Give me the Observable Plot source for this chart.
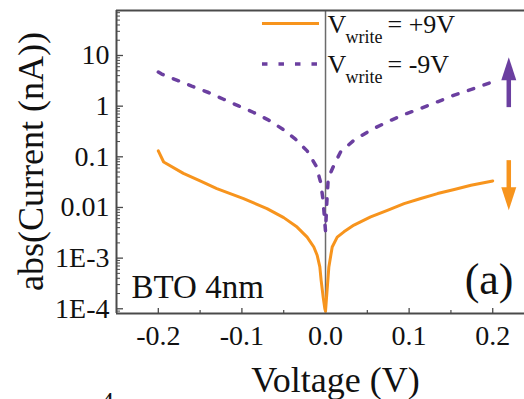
<!DOCTYPE html>
<html><head><meta charset="utf-8">
<script src="https://cdn.jsdelivr.net/npm/d3@7"></script>
<script src="https://cdn.jsdelivr.net/npm/@observablehq/plot@0.6"></script>
<style>
html,body{margin:0;padding:0;background:#fff;overflow:hidden;width:524px;height:399px}
svg, svg text{font-family:"Liberation Serif","Times New Roman",Times,serif !important}
</style>
</head><body><div id="chart"></div>
<script>
// Vwrite = +9V (orange, solid)
const voltagePos = [-0.2, -0.1936, -0.17, -0.15, -0.13, -0.098, -0.07, -0.05, -0.034, -0.022, -0.014, -0.01, -0.0068, -0.0052, -0.0028, -0.0008, 0, 0.001, 0.004, 0.008, 0.014, 0.022, 0.034, 0.054, 0.074, 0.094, 0.114, 0.134, 0.154, 0.174, 0.2];
const currentPos = [0.131, 0.079, 0.047, 0.0334, 0.0236, 0.015, 0.0095, 0.0063, 0.0041, 0.0026, 0.00166, 0.00114, 0.00067, 0.00036, 0.00017, 0.0001, 0.00009, 0.00015, 0.00067, 0.00166, 0.0026, 0.0033, 0.0045, 0.0065, 0.0088, 0.0119, 0.015, 0.0188, 0.0226, 0.0275, 0.0334];
// Vwrite = -9V (purple, dotted)
const voltageNeg = [-0.2, -0.196, -0.178, -0.16, -0.14, -0.122, -0.104, -0.086, -0.068, -0.051, -0.036, -0.022, -0.011, -0.006, -0.003, -0.0015, 0, 0.0015, 0.003, 0.006, 0.01, 0.018, 0.034, 0.054, 0.074, 0.094, 0.114, 0.134, 0.154, 0.178, 0.2];
const currentNeg = [4.7, 4.29, 3.27, 2.48, 1.86, 1.37, 1.01, 0.75, 0.53, 0.35, 0.223, 0.131, 0.065, 0.032, 0.0144, 0.007, 0.0034, 0.012, 0.032, 0.048, 0.068, 0.125, 0.213, 0.336, 0.49, 0.685, 0.9, 1.22, 1.65, 2.24, 3.02];

const xTickValues = [-0.2, -0.1, 0, 0.1, 0.2];
const xTickLabels = ["-0.2", "-0.1", "0.0", "0.1", "0.2"];
const xMinorValues = [-0.15, -0.05, 0.05, 0.15];
const yTickValues = [1e-4, 1e-3, 0.01, 0.1, 1, 10];
const yTickLabels = ["1E-4", "1E-3", "0.01", "0.1", "1", "10"];

const W = 524, H = 399, ML = 116, MR = 0, MT = 10, MB = 86;
const plotW = W - ML - MR, plotH = H - MT - MB;
const xDomain = [-0.25, 0.238];
const yDomain = [8.07e-5, 77.3];

const yMinor = [];
for (let e = -5; e <= 1; e++) for (let m = 2; m <= 9; m++) {
  const v = m * Math.pow(10, e);
  if (v > yDomain[0] && v < yDomain[1]) yMinor.push(v);
}

const pos = voltagePos.map((v, i) => ({v, c: currentPos[i]}));
const neg = voltageNeg.map((v, i) => ({v, c: currentNeg[i]}));

const ORANGE = "#F7941D", PURPLE = "#6B3FA0", AXIS = "#4a4a4a", INK = "#111";
const FONT = "Liberation Serif";
const arrowX = 0.2192;

const txt = (s, o) => Plot.text([s], {text: d => d, frameAnchor: "top-left", lineAnchor: "bottom", textAnchor: "start", fill: INK, fontFamily: FONT, ...o});

const chart = Plot.plot({
  width: W, height: H,
  marginLeft: ML, marginRight: MR, marginTop: MT, marginBottom: MB,
  style: {fontFamily: FONT, color: INK, background: "white", overflow: "visible"},
  x: {type: "linear", domain: xDomain},
  y: {type: "log", domain: yDomain},
  marks: [
    Plot.ruleX([0], {stroke: "#6b6b6b", strokeWidth: 1.5}),
    Plot.ruleY([yDomain[1]], {stroke: AXIS, strokeWidth: 2}),
    Plot.ruleY([yDomain[0]], {stroke: AXIS, strokeWidth: 2}),
    Plot.ruleX([xDomain[0]], {stroke: AXIS, strokeWidth: 2}),
    Plot.tickX(xTickValues, {x: d => d, insetTop: plotH - 5, stroke: AXIS, strokeWidth: 1.3}),
    Plot.tickX(xMinorValues, {x: d => d, insetTop: plotH - 3, stroke: AXIS, strokeWidth: 1.2}),
    Plot.tickY(yTickValues, {y: d => d, insetRight: plotW - 7, stroke: AXIS, strokeWidth: 1.3}),
    Plot.tickY(yMinor, {y: d => d, insetRight: plotW - 4, stroke: AXIS, strokeWidth: 1}),
    Plot.axisX({ticks: xTickValues, tickFormat: d => xTickLabels[xTickValues.indexOf(d)], tickSize: 0, tickPadding: 12, fontSize: 28, fontFamily: FONT, fill: INK, label: null}),
    Plot.axisY({ticks: yTickValues, tickFormat: d => yTickLabels[yTickValues.indexOf(d)], tickSize: 0, tickPadding: 7, fontSize: 28, fontFamily: FONT, fill: INK, label: null}),
    Plot.line(neg, {x: "v", y: "c", stroke: PURPLE, strokeWidth: 3.5, strokeDasharray: "5.5,11"}),
    Plot.line(pos, {x: "v", y: "c", stroke: ORANGE, strokeWidth: 3, strokeLinejoin: "round"}),
    // legend
    Plot.ruleY([42.8], {x1: -0.0754, x2: -0.0072, stroke: ORANGE, strokeWidth: 3}),
    Plot.ruleY([6.8], {x1: -0.0754, x2: -0.0072, stroke: PURPLE, strokeWidth: 3.5, strokeDasharray: "5.5,11"}),
    txt("V", {dx: 211, dy: 22, fontSize: 26}),
    txt("write", {dx: 229, dy: 32, fontSize: 18}),
    txt("= +9V", {dx: 271, dy: 22, fontSize: 26}),
    txt("V", {dx: 211, dy: 62, fontSize: 26}),
    txt("write", {dx: 229, dy: 72, fontSize: 18}),
    txt("= -9V", {dx: 271, dy: 62, fontSize: 26}),
    // arrows
    Plot.link([0], {x1: arrowX, x2: arrowX, y1: 0.956, y2: 3.4, stroke: PURPLE, strokeWidth: 4.5}),
    Plot.vector([0], {x: arrowX, y: 3.26, length: 23, r: 7.5, shape: "spike", anchor: "start", rotate: 0, fill: PURPLE, stroke: "none"}),
    Plot.link([0], {x1: arrowX, x2: arrowX, y1: 0.0859, y2: 0.0229, stroke: ORANGE, strokeWidth: 4.5}),
    Plot.vector([0], {x: arrowX, y: 0.0251, length: 23, r: 7.5, shape: "spike", anchor: "start", rotate: 180, fill: ORANGE, stroke: "none"}),
    // annotations
    txt("BTO 4nm", {dx: 15, dy: 287, fontSize: 33}),
    txt("(a)", {dx: 397, dy: 283, fontSize: 44, textAnchor: "end"}),
    txt("Voltage (V)", {dx: 219, dy: 381, fontSize: 36, textAnchor: "middle"}),
    txt("abs(Current (nA))", {dx: -74, dy: 151, fontSize: 36, textAnchor: "middle", rotate: -90}),
    txt("4", {dx: -16, dy: 400, fontSize: 27})
  ]
});
document.getElementById("chart").appendChild(chart);
</script></body></html>
